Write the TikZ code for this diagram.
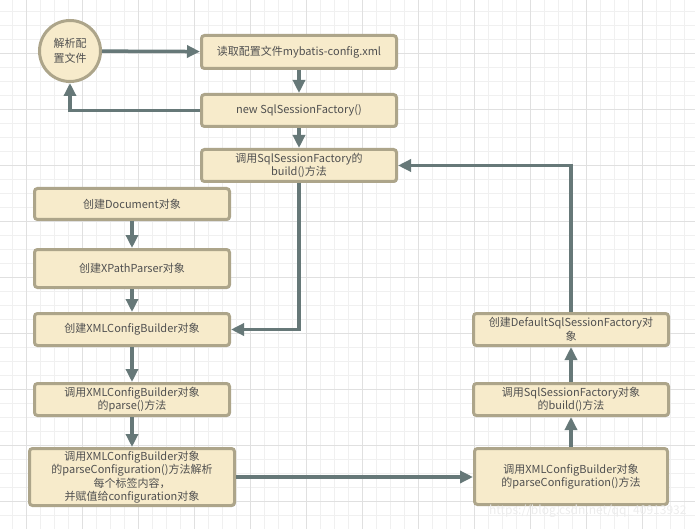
\documentclass[tikz,border=0pt]{standalone}
\usepackage{fontspec}
\setmainfont{Noto Sans CJK SC}
\usetikzlibrary{arrows.meta,shadows}

\definecolor{boxfill}{HTML}{F7EBCB}
\definecolor{boxline}{HTML}{ADA58A}
\definecolor{arrowc}{HTML}{667878}
\definecolor{textc}{HTML}{505050}
\definecolor{gridminor}{HTML}{F0F0F0}
\definecolor{gridmajor}{HTML}{E0E0E0}

\tikzset{
  stepbox/.style={rectangle, rounded corners=3pt, draw=boxline, fill=boxfill,
    line width=3pt, text=textc, align=center, inner sep=1pt,
    minimum width=195pt, minimum height=32pt,
    font=\fontsize{11}{13.5}\selectfont,
    drop shadow={shadow xshift=1.2pt, shadow yshift=-1.2pt, opacity=0.25, fill=black}},
  startcircle/.style={circle, draw=boxline, fill=boxfill, line width=3pt,
    text=textc, align=center, minimum size=61pt, inner sep=0pt,
    font=\fontsize{11}{15}\selectfont},
  flow/.style={draw=arrowc, line width=3.5pt,
    -{Triangle[length=13pt,width=12pt]}},
}

\begin{document}
\begin{tikzpicture}[x=1pt,y=-1pt]
    \useasboundingbox (0,0) rectangle (695,529);
    \fill[white] (0,0) rectangle (695,529);

    % background grid
    \foreach \i in {0,...,49} {
        \pgfmathsetmacro\gx{12.7+14*\i}
        \draw[gridminor, line width=1pt] (\gx,0) -- (\gx,529);
    }
    \foreach \i in {0,...,37} {
        \pgfmathsetmacro\gy{11.3+14*\i}
        \draw[gridminor, line width=1pt] (0,\gy) -- (695,\gy);
    }
    \foreach \i in {0,...,12} {
        \pgfmathsetmacro\gx{26.7+56*\i}
        \draw[gridmajor, line width=1pt] (\gx,0) -- (\gx,529);
    }
    \foreach \i in {0,...,9} {
        \pgfmathsetmacro\gy{53.3+56*\i}
        \draw[gridmajor, line width=1pt] (0,\gy) -- (695,\gy);
    }

    % start
    \node[startcircle] (parsecfgfile) at (70,51) {解析配\\置文件};

    % top column
    \node[stepbox, minimum height=33pt] (readxml) at (299,52) {读取配置文件mybatis-config.xml};
    \node[stepbox] (newfactory) at (299,110.5) {new SqlSessionFactory()};
    \node[stepbox] (callbuild) at (299,165.5) {调用SqlSessionFactory的\\build()方法};

    % left column
    \node[stepbox, minimum height=31pt] (createdoc) at (132,204) {创建Document对象};
    \node[stepbox, minimum height=38pt] (createxpath) at (132,268.5) {创建XPathParser对象};
    \node[stepbox] (createbuilder) at (132,329.5) {创建XMLConfigBuilder对象};
    \node[stepbox] (callparse) at (132,399.5) {调用XMLConfigBuilder对象\\的parse()方法};
    \node[stepbox, minimum width=205pt, minimum height=57pt] (parseeach) at (132,477)
        {调用XMLConfigBuilder对象\\的parseConfiguration()方法解析\\每个标签内容，\\并赋值给configuration对象};

    % right column
    \node[stepbox, minimum width=193pt, minimum height=56pt] (callparsecfg) at (571,476.5)
        {调用XMLConfigBuilder对象\\的parseConfiguration()方法};
    \node[stepbox] (sqlbuild) at (571,399.5) {调用SqlSessionFactory对象\\的build()方法};
    \node[stepbox] (createdefault) at (571,329.5) {创建DefaultSqlSessionFactory对\\象};

    % connectors
    \draw[flow] (parsecfgfile) -- (readxml);
    \draw[flow] (readxml) -- (newfactory);
    \draw[flow] (newfactory) -- (callbuild);
    \draw[flow] (newfactory.west) -| (parsecfgfile.south);
    \draw[flow] (callbuild.south) |- (createbuilder.east);
    \draw[flow] (createdoc) -- (createxpath);
    \draw[flow] (createxpath) -- (createbuilder);
    \draw[flow] (createbuilder) -- (callparse);
    \draw[flow] (callparse) -- (parseeach);
    \draw[flow] (parseeach.east) -- (callparsecfg.west |- parseeach.east);
    \draw[flow] (callparsecfg) -- (sqlbuild);
    \draw[flow] (sqlbuild) -- (createdefault);
    \draw[flow] (createdefault.north) |- (callbuild.east);

    % watermark
    \node[text=white!85!gray, font=\fontsize{12}{14}\selectfont, anchor=east] (mark) at (690,511)
        {https://blog.csdn.net/qq\_40913932};
\end{tikzpicture}
\end{document}
